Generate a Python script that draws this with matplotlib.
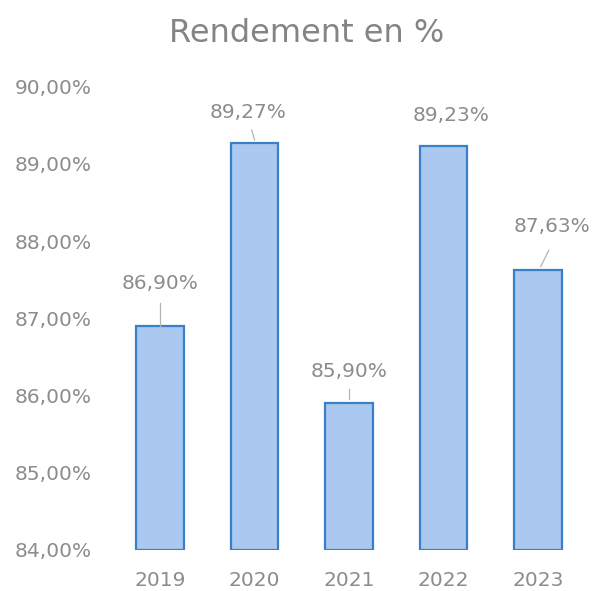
import matplotlib.pyplot as plt

years = ['2019', '2020', '2021', '2022', '2023']
rendement = [86.90, 89.27, 85.90, 89.23, 87.63]
labels = ['86,90%', '89,27%', '85,90%', '89,23%', '87,63%']
yticks = [84, 85, 86, 87, 88, 89, 90]

grey = '#8c8c8c'

# label placement relative to the bar top (x shift, y shift), as in the source
lab_dx = [0.0, -0.07, 0.0, 0.08, 0.15]
lab_dy = [0.545, 0.39, 0.415, 0.39, 0.56]
# leader lines: (x0, y0, x1, y1) relative to bar top, None = no line
leaders = [(0, 0.0, 0, 0.30), (0.0, 0.04, -0.03, 0.17), (0, 0.06, 0, 0.18),
           None, (0.03, 0.04, 0.115, 0.25)]

fig = plt.figure(figsize=(5.94, 5.91), dpi=100)
ax = fig.add_axes([0.19, 0.0694, 0.803, 0.784])

x = range(len(years))
ax.bar(x, [v - 84 for v in rendement], bottom=84, width=0.5,
       color='#aac8f0', edgecolor='#3a80c6', linewidth=1.6)

for i, v in enumerate(rendement):
    if leaders[i]:
        x0, y0, x1, y1 = leaders[i]
        ax.plot([i + x0, i + x1], [v + y0, v + y1], color='#b4b4b4', linewidth=0.9)
    ax.text(i + lab_dx[i], v + lab_dy[i], labels[i], ha='center', va='center',
            fontsize=14.5, color=grey)

ax.set_xlim(-0.5, 4.55)
ax.set_ylim(84, 90)
ax.set_xticks(list(x))
ax.set_xticklabels(years)
ax.set_yticks(yticks)
ax.set_yticklabels([f'{t},00%' for t in yticks])
ax.tick_params(length=0, labelsize=14.5, labelcolor=grey)
ax.tick_params(axis='y', pad=15)
ax.tick_params(axis='x', pad=15)
for s in ax.spines.values():
    s.set_visible(False)

fig.text(0.517, 0.943, 'Rendement en %', ha='center', va='center',
         fontsize=23, color='#848484')

fig.savefig('out.png', dpi=100)
